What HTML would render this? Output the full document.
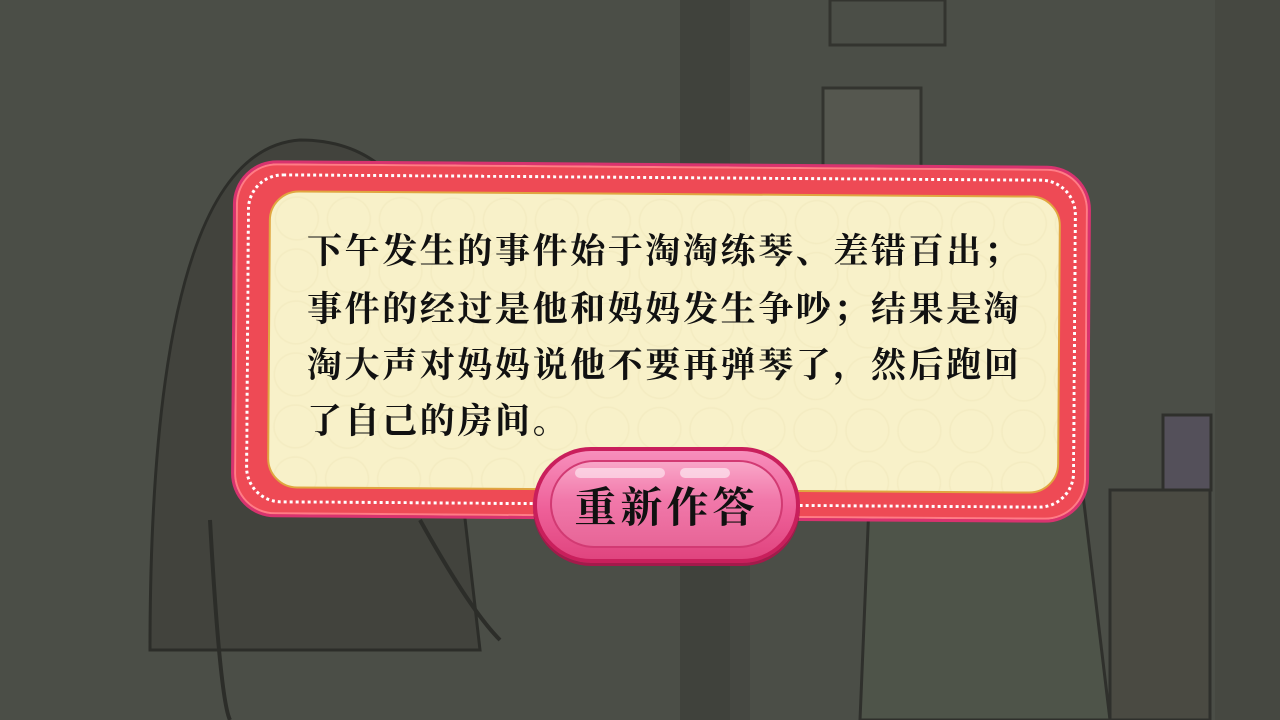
<!DOCTYPE html>
<html><head><meta charset="utf-8">
<style>
html,body{margin:0;padding:0}
body{width:1280px;height:720px;overflow:hidden;background:#4b4e47;position:relative;font-family:"Liberation Serif","Noto Serif CJK SC",serif}
.abs{position:absolute}
#dialog-frame{left:232px;top:163px;width:858px;height:357px;border-radius:44px;background:#ee4a55;border:3px solid #d8336f;box-sizing:border-box;transform:rotate(0.4deg);box-shadow:0 0 0 2px #ff7c86 inset}
#dots{left:246px;top:176px;width:830px;height:330px;border-radius:36px;border:3px dotted #fff;box-sizing:border-box;transform:rotate(0.4deg)}
#panel{left:268px;top:193px;width:792px;height:298px;border-radius:30px;background:#f8f1c9;border:2px solid #e0a640;box-sizing:border-box;transform:rotate(0.4deg);
background-image:radial-gradient(circle at 50% 50%,rgba(230,220,170,0) 55%,rgba(232,222,175,.35) 58%,rgba(230,220,170,0) 62%);background-size:52px 52px}
.line{left:307px;font-size:35px;letter-spacing:2.6px;color:#111;font-family:"Liberation Serif","AR PL UKai CN","Noto Serif CJK SC",serif;font-weight:bold;white-space:nowrap}
#btn{left:533px;top:447px;width:267px;height:116px;border-radius:58px;background:linear-gradient(#f78fbc,#ee5f98 55%,#e0457f);border:4px solid #c91f5c;box-sizing:border-box;box-shadow:0 3px 0 #a41a4b}
#btn-inner{left:550px;top:460px;width:233px;height:88px;border-radius:44px;border:2px solid #d23a73;box-sizing:border-box;background:linear-gradient(#f9a6c8 0%,#f178aa 45%,#e76597 100%)}
#btn-text{left:533px;top:475px;width:267px;text-align:center;font-size:42px;letter-spacing:4px;color:#111;font-weight:bold;font-family:"Liberation Serif","AR PL UKai CN","Noto Serif CJK SC",serif}
</style></head><body>
<svg class="abs" style="left:0;top:0" width="1280" height="720">
 <rect x="680" y="0" width="50" height="720" fill="#40423c"/>
 <rect x="730" y="0" width="20" height="720" fill="#454741"/>
 <rect x="1215" y="0" width="65" height="720" fill="#464841"/>
 <rect x="830" y="0" width="115" height="45" fill="none" stroke="#33342f" stroke-width="3"/>
 <rect x="823" y="88" width="98" height="85" fill="#55574f" stroke="#33342f" stroke-width="3"/>
 <path d="M150 650 Q150 150 300 140 Q420 140 440 300 L480 650 Z" fill="#42433d" stroke="#2c2d29" stroke-width="3"/>
 <path d="M210 520 Q220 700 230 720 M420 520 Q470 610 500 640" stroke="#2c2d29" stroke-width="4" fill="none"/>
 <path d="M860 720 L870 480 Q950 430 1080 470 L1110 720 Z" fill="#4e5449" stroke="#2f302c" stroke-width="3"/>
 <rect x="1110" y="490" width="100" height="230" fill="#4a4a42" stroke="#2f302c" stroke-width="3"/>
 <rect x="1163" y="415" width="48" height="75" fill="#54505a" stroke="#2f302c" stroke-width="3"/>
</svg>
<div id="dialog-frame" class="abs"></div>
<div id="dots" class="abs"></div>
<div id="panel" class="abs"></div>
<div class="abs line" style="top:224px">下午发生的事件始于淘淘练琴、差错百出；</div>
<div class="abs line" style="top:282px">事件的经过是他和妈妈发生争吵；结果是淘</div>
<div class="abs line" style="top:338px">淘大声对妈妈说他不要再弹琴了，然后跑回</div>
<div class="abs line" style="top:394px">了自己的房间。</div>
<div id="btn" class="abs"></div>
<div id="btn-inner" class="abs"></div>
<div class="abs" style="left:575px;top:468px;width:90px;height:10px;border-radius:5px;background:rgba(255,255,255,.5)"></div>
<div class="abs" style="left:680px;top:468px;width:50px;height:10px;border-radius:5px;background:rgba(255,255,255,.55)"></div>
<div id="btn-text" class="abs">重新作答</div>
</body></html>
